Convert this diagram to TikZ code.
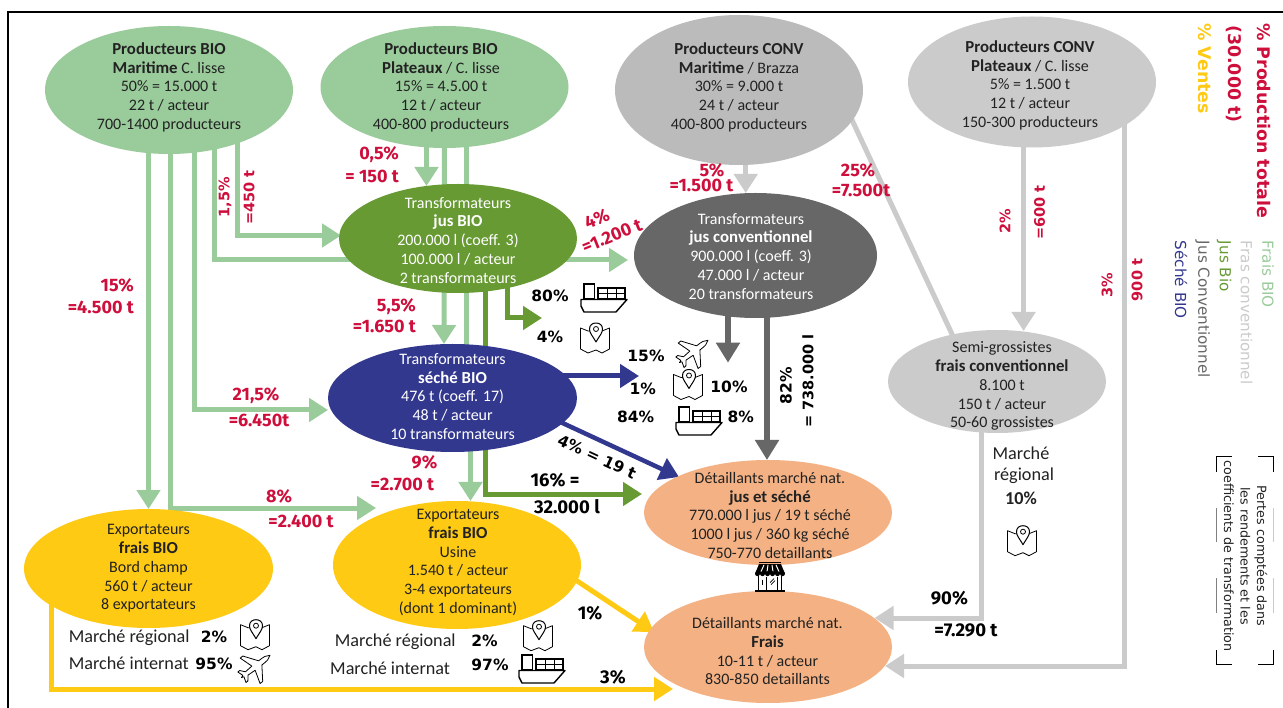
\documentclass[tikz,border=0pt]{standalone}
\usepackage{fontspec}
\setmainfont{Carlito}
\newfontfamily\lblfont{Fira Sans}
\newfontfamily\djv{DejaVu Sans}
\usetikzlibrary{arrows.meta,shapes.geometric}
\pgfdeclarelayer{bg}
\pgfsetlayers{bg,main}
\definecolor{cGreen}{HTML}{9ACB9B}
\definecolor{cLGrey}{HTML}{CBCBCB}
\definecolor{cMGrey}{HTML}{BBBBBB}
\definecolor{cDGreen}{HTML}{679A33}
\definecolor{cDGrey}{HTML}{676767}
\definecolor{cBlue}{HTML}{33388F}
\definecolor{cYellow}{HTML}{FFCA13}
\definecolor{cSalmon}{HTML}{F4B183}
\definecolor{cRed}{HTML}{CE0F3C}
\definecolor{cText}{HTML}{222222}
\newcommand{\bb}[1]{{\bfseries\fontsize{16.8}{18.7}\selectfont #1}}
\tikzset{
  ell/.style={shape=ellipse,inner sep=0pt,outer sep=0pt,draw=none},
  etext/.style={align=center,inner sep=0pt,yshift=-1.5pt,text=cText,font=\fontsize{16}{18.7}\selectfont},
  wtext/.style={etext,text=white},
  redl/.style={text=cRed,inner sep=0pt,font=\lblfont\bfseries\fontsize{18}{20}\selectfont},
  redr/.style={text=cRed,inner sep=0pt,font=\djv\bfseries\fontsize{14.5}{16}\selectfont},
  blk/.style={text=black,inner sep=0pt,font=\djv\bfseries\fontsize{15.5}{17}\selectfont},
  blkf/.style={text=black,inner sep=0pt,font=\lblfont\bfseries\fontsize{18.5}{20}\selectfont},
  mkt/.style={text=cText,inner sep=0pt,font=\fontsize{18.2}{20}\selectfont},
  legb/.style={inner sep=0pt,rotate=-90,anchor=west,font=\djv\bfseries\fontsize{17.4}{19}\selectfont},
  legr/.style={inner sep=0pt,rotate=-90,anchor=west,font=\djv\fontsize{15.2}{17}\selectfont},
  flow/.style={line width=5pt,-{Triangle[width=23pt,length=19pt]}},
  flowp/.style={line width=5pt},
  icon/.style={line width=0.8pt,draw=black,fill=white,line join=round},
  pics/mapic/.style={code={
    \draw[icon] (-14.5,-10) -- (-14.5,11) -- (-7,15) -- (1,12) -- (7,15) -- (14.5,11) -- (14.5,-10) -- (7,-7) -- (-7,-7) -- cycle;
    \draw[icon,line width=1pt] (1,4) .. controls (-3,-3) and (-5.5,-5) .. (-5.5,-9) .. controls (-5.5,-13) and (-2.5,-15) .. (1,-15) .. controls (4.5,-15) and (7.5,-13) .. (7.5,-9) .. controls (7.5,-5) and (5,-3) .. (1,4) -- cycle;
    \draw[line width=0.8pt] (1,-9) circle[radius=2.5pt];
  }},
  pics/shipic/.style={code={
    \draw[line width=1.2pt,fill=white] (-20,-14) rectangle (-9.5,1);
    \draw[line width=1.2pt,fill=white] (-6,-10) rectangle (21,1);
    \draw[line width=1pt] (-6,-4.5) -- (21,-4.5) (3,-10) -- (3,1) (12,-10) -- (12,1);
    \draw[line width=1.4pt,fill=white,line join=round] (-23,1.5) -- (23,1.5) -- (12,14) -- (-20,14) -- (-23,8) -- cycle;
  }},
  pics/planeic/.style={code={
    \begin{scope}[rotate=-52,scale=0.95]
    \draw[icon] (0,-20) .. controls (2.6,-17) and (2.8,-14) .. (2.8,-7) -- (17,3) -- (17,6.5) -- (2.8,2) -- (2.2,11) -- (7,15) -- (7,17.5) -- (0.9,15.5) -- (0,18) -- (-0.9,15.5) -- (-7,17.5) -- (-7,15) -- (-2.2,11) -- (-2.8,2) -- (-17,6.5) -- (-17,3) -- (-2.8,-7) .. controls (-2.8,-14) and (-2.6,-17) .. (0,-20) -- cycle;
    \end{scope}
  }},
  pics/storeic/.style={code={
    \fill[black] (-11,-15) rectangle (11,-13.4);
    \fill[black] (-11,-12.6) -- (11,-12.6) -- (15,-3) -- (-15,-3) -- cycle;
    \foreach \a/\b in {-6/-9,-2/-3,2/3,6/9}{\draw[white,line width=1pt] (\a,-11.8) -- (\b,-5);}
    \foreach \c in {-12.5,-7.5,-2.5,2.5,7.5,12.5}{\fill[black] (\c,-3) circle[radius=2.5pt];}
    \draw[line width=1.2pt] (-11.5,-1) -- (-11.5,13) (11.5,-1) -- (11.5,13);
    \draw[line width=1pt] (-3.5,0) -- (-3.5,13) (7,0) -- (7,13);
    \draw[line width=1pt] (-8,3) -- (-8,8);
    \draw[line width=0.7pt] (0,6) -- (4,2) (1,8) -- (5,4);
    \draw[line width=2pt] (-15,14) -- (15,14);
  }},
}
\begin{document}
\begin{tikzpicture}[x=1pt,y=-1pt]
\useasboundingbox (0,0) rectangle (1283,708);
\begin{pgfonlayer}{bg}
\fill[white] (0,0) rectangle (1283,708);
\end{pgfonlayer}
\draw[line width=2pt,black] (8,708) -- (8,12) -- (1283,12);

% ellipses
\node[ell,fill=cGreen,minimum width=248pt,minimum height=128pt] (A) at (169,90) {};
\node[ell,fill=cGreen,minimum width=248pt,minimum height=122pt] (B) at (444.5,87) {};
\node[ell,fill=cMGrey,minimum width=248pt,minimum height=150pt] (C) at (739,90) {};
\node[ell,fill=cLGrey,minimum width=248pt,minimum height=131pt] (D) at (1032,82) {};
\node[ell,fill=cDGreen,minimum width=238pt,minimum height=109pt] (E) at (458,238.5) {};
\node[ell,fill=cDGrey,minimum width=243pt,minimum height=125pt] (F) at (755.5,255.5) {};
\node[ell,fill=cBlue,minimum width=249pt,minimum height=108pt] (G) at (452.5,398) {};
\node[ell,fill=cLGrey,minimum width=218pt,minimum height=103pt] (H) at (997,381.5) {};
\node[ell,fill=cYellow,minimum width=249pt,minimum height=119pt] (I) at (148.5,568.5) {};
\node[ell,fill=cYellow,minimum width=248pt,minimum height=128pt] (J) at (457,565) {};
\node[ell,fill=cSalmon,minimum width=248pt,minimum height=105pt] (K) at (768,512.5) {};
\node[ell,fill=cSalmon,minimum width=248pt,minimum height=112pt] (L) at (768,647) {};

% free connector ends
\coordinate (a2) at (376,508);
\coordinate (a10) at (542,318);
\coordinate (a11) at (639,376);
\coordinate (a13) at (728,362.7);
\coordinate (a9) at (642,494);

\begin{pgfonlayer}{bg}
\draw[flow,cGreen] ([xshift=-20.5]A.center) -- (I.north);
\draw[flow,cGreen] ([xshift=1]A.center) |- (a2);
\draw[flow,cGreen] ([xshift=25]A.center) |- ([yshift=-12]G.west);
\draw[flow,cGreen] ([xshift=45]A.center) |- ([xshift=-6,yshift=-4.5]F.west);
\draw[flow,cGreen] ([xshift=68.5]A.center) |- ([xshift=2,yshift=3]E.west);
\draw[flow,cGreen] ([xshift=-18]B.center) -- ([xshift=-31.5,yshift=-2]E.north);
\draw[flow,cGreen] (B.center) -- ([xshift=-8.5]G.north);
\draw[flowp,cGreen] ([xshift=22]B.center) -- ([xshift=14]G.center);
\draw[flow,cGreen] ([xshift=18]G.center) -- ([xshift=13.5]J.north);
\draw[flow,cDGreen] ([xshift=27.7]E.center) |- (a9);
\draw[flow,cDGreen] ([xshift=49]E.center) |- (a10);
\draw[flow,cBlue] ([yshift=22]G.center) -- (a11);
\draw[line width=4.5pt,-{Triangle[width=23pt,length=19pt]},cBlue] ([yshift=26]G.center) -- ([xshift=-89,yshift=35.5]K.center);
\draw[line width=6pt,-{Triangle[width=23pt,length=20pt]},cDGrey] ([xshift=-27.5]F.center) -- (a13);
\draw[line width=6pt,-{Triangle[width=23pt,length=20pt]},cDGrey] ([xshift=11.5]F.center) -- ([xshift=-1]K.north);
\draw[flow,cLGrey] ([xshift=6.7]C.center) -- ([xshift=-9.8]F.north);
\draw[flowp,cLGrey] ([xshift=99]C.center) -- ([xshift=-32,yshift=19.5]H.center);
\draw[flow,cLGrey] ([xshift=-8.4]D.center) -- ([xshift=26.6,yshift=-1]H.north);
\draw[flow,cLGrey] ([xshift=92]D.center) |- ([xshift=117,yshift=-19]L.center);
\draw[flow,cLGrey] ([xshift=-15.6]H.center) |- ([xshift=106.5,yshift=29]L.center);
\draw[flow,cYellow] ([xshift=100,yshift=-2.6]J.center) -- ([xshift=-114,yshift=15]L.center);
\draw[flow,cYellow] ([xshift=-97.5]I.center) |- ([xshift=-95,yshift=-42]L.center);
\end{pgfonlayer}

% ellipse texts
\node[etext] (tA) at (169,85.7) {\bb{Producteurs BIO}\\\bb{Maritime} C. lisse\\50\% = 15.000 t\\22 t / acteur\\700-1400 producteurs};
\node[etext] (tB) at (441,85.7) {\bb{Producteurs BIO}\\\bb{Plateaux} / C. lisse\\15\% = 4.5.00 t\\12 t / acteur\\400-800 producteurs};
\node[etext] (tC) at (739,85.7) {\bb{Producteurs CONV}\\\bb{Maritime} / Brazza\\30\% = 9.000 t\\24 t / acteur\\400-800 producteurs};
\node[etext] (tD) at (1030,83.7) {\bb{Producteurs CONV}\\\bb{Plateaux} / C. lisse\\5\% = 1.500 t\\12 t / acteur\\150-300 producteurs};
\node[wtext] (tE) at (458,238.7) {Transformateurs\\\bb{jus BIO}\\200.000 l (coeff. 3)\\100.000 l / acteur\\2 transformateurs};
\node[wtext] (tF) at (751,254.7) {Transformateurs\\\bb{jus conventionnel}\\900.000 l (coeff. 3)\\47.000 l / acteur\\20 transformateurs};
\node[wtext] (tG) at (452.6,395) {Transformateurs\\\bb{séché BIO}\\476 t (coeff. 17)\\48 t / acteur\\10 transformateurs};
\node[etext] (tH) at (1002,384.7) {Semi-grossistes\\\bb{frais conventionnel}\\8.100 t\\150 t / acteur\\50-60 grossistes};
\node[etext] (tI) at (148.5,567) {Exportateurs\\\bb{frais BIO}\\Bord champ\\560 t / acteur\\8 exportateurs};
\node[etext] (tJ) at (458,561) {Exportateurs\\\bb{frais BIO}\\Usine\\1.540 t / acteur\\3-4 exportateurs\\(dont 1 dominant)};
\node[etext] (tK) at (770,514) {Détaillants marché nat.\\\bb{jus et séché}\\770.000 l jus / 19 t séché\\1000 l jus / 360 kg séché\\750-770 detaillants};
\node[etext] (tL) at (767.5,649.7) {Détaillants marché nat.\\\bb{Frais}\\10-11 t / acteur\\830-850 detaillants};

% red labels
\node[redl,anchor=east] (l1) at (399,155) {0,5\%};
\node[redl,anchor=east] (l2) at (399,176) {= 150 t};
\node[redr,rotate=90] (l3) at (225,197) {1,5\%};
\node[redr,rotate=90] (l4) at (249,197.5) {=450 t};
\node[redl,anchor=east] (l5) at (134,285) {15\%};
\node[redl,anchor=east] (l6) at (134,307) {=4.500 t};
\node[redl,anchor=east] (l7) at (416,307) {5,5\%};
\node[redl,anchor=east] (l8) at (416,326.7) {=1.650 t};
\node[redl,rotate=22] (l9) at (597,219) {4\%};
\node[redl,rotate=22] (l10) at (612,236) {=1.200 t};
\node[redl] (l11) at (712,170) {5\%};
\node[redl] (l12) at (701.5,185) {=1.500 t};
\node[redl] (l13) at (858,170) {25\%};
\node[redl] (l14) at (861,190.7) {=7.500t};
\node[redr,rotate=90] (l15) at (1005,221) {2\%};
\node[redr,rotate=90] (l16) at (1039.6,212.5) {=600 t};
\node[redr,rotate=90] (l17) at (1107,285) {3\%};
\node[redr,rotate=90] (l18) at (1137,280) {900 t};
\node[redl] (l19) at (256,396) {21,5\%};
\node[redl] (l20) at (259,420) {=6.450t};
\node[redl] (l21) at (424.5,462) {9\%};
\node[redl] (l22) at (402.4,484.7) {=2.700 t};
\node[redl] (l23) at (279,496) {8\%};
\node[redl] (l24) at (301,521.7) {=2.400 t};

% black labels
\node[blk] (b1) at (550,296) {80\%};
\node[blk] (b2) at (550,336.7) {4\%};
\node[blk] (b3) at (646,356) {15\%};
\node[blk] (b4) at (642.7,389) {1\%};
\node[blk] (b5) at (635.7,416.7) {84\%};
\node[blk] (b6) at (729,386.7) {10\%};
\node[blk] (b7) at (740.7,416.7) {8\%};
\node[blk,rotate=90] (b8) at (786,386) {82\%};
\node[blk,rotate=90,font=\djv\bfseries\fontsize{14.5}{17}\selectfont] (b9) at (808,381) {= 738.000 l};
\node[blk,rotate=-25] (b10) at (597,457) {4\% = 19 t};
\node[blkf] (b11) at (555,480) {16\% =};
\node[blkf] (b12) at (567,506.7) {32.000 l};
\node[blkf] (b13) at (590,613) {1\%};
\node[blkf] (b14) at (613,677) {3\%};
\node[blkf] (b15) at (949.4,598) {90\%};
\node[blkf] (b16) at (966,630) {=7.290 t};

% market labels
\node[mkt] (m1) at (1021,453) {Marché};
\node[mkt] (m2) at (1024,475.7) {régional};
\node[mkt,font=\bfseries\fontsize{18.2}{20}\selectfont] (m3) at (1021,498) {10\%};
\node[mkt,anchor=west] (m4) at (68.6,638) {Marché régional};
\node[mkt,anchor=west] (m5) at (68.6,663) {Marché internat};
\node[blk] (m6) at (214,636.7) {2\%};
\node[blk] (m7) at (214,664) {95\%};
\node[mkt,anchor=west] (m8) at (334.7,641.7) {Marché régional};
\node[mkt,anchor=west] (m9) at (330,668) {Marché internat};
\node[blk] (m10) at (484.5,641) {2\%};
\node[blk] (m11) at (490,664.7) {97\%};

% icons
\path (604,298) pic {shipic};
\pic at (595,338) {mapic};
\pic at (693,352) {planeic};
\pic at (688,384.5) {mapic};
\pic at (699,421) {shipic};
\pic at (1022,540.7) {mapic};
\pic at (770,576.7) {storeic};
\pic at (255,634.7) {mapic};
\pic at (255,667) {planeic};
\pic at (538,635.7) {mapic};
\pic at (542,669) {shipic};

% legend
\node[legb,text=cRed] (g1) at (1264,23) {\% Production totale};
\node[legb,text=cRed] (g2) at (1234,25) {(30.000 t)};
\node[legb,text=cYellow] (g3) at (1205,23) {\% Ventes};
\node[legr,text=cGreen] (g4) at (1268,240.7) {Frais BIO};
\node[legr,text=cLGrey] (g5) at (1246.6,240.7) {Fras conventionnel};
\node[legr,text=cDGreen] (g6) at (1224,240.7) {Jus Bio};
\node[legr,text=cDGrey] (g7) at (1202.7,240.7) {Jus Conventionnel};
\node[legr,text=cBlue] (g8) at (1181,240.7) {Séché BIO};

% note with bracket
\node[inner sep=0pt,rotate=-90,align=center,text=cText,font=\djv\fontsize{12.7}{16.5}\selectfont] (n1) at (1245.7,556) {Pertes comptées dans\\les rendements et les\\coefficients de transformation};
\draw[line width=1pt,black] (1232,457) -- (1216,457) -- (1216,472);
\draw[line width=1pt,black] (1258,457) -- (1273,457) -- (1273,472);
\draw[line width=1pt,black] (1232,664) -- (1216,664) -- (1216,650);
\draw[line width=1pt,black] (1258,664) -- (1273,664) -- (1273,650);
\draw[line width=0.6pt,gray] (1216,508) -- (1216,542) (1216,578) -- (1216,613);
\draw[line width=0.5pt,cLGrey] (1273,508) -- (1273,542) (1273,578) -- (1273,613);
\end{tikzpicture}
\end{document}
